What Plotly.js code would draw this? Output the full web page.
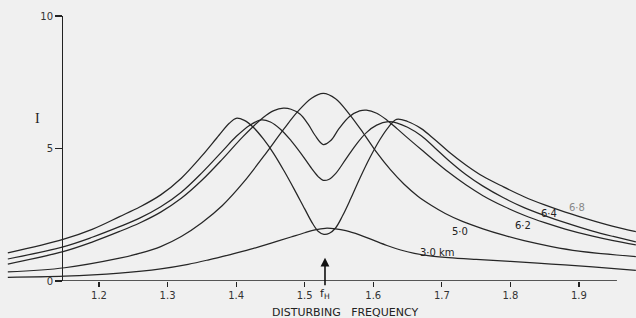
<!DOCTYPE html>
<html>
<head>
<meta charset="utf-8">
<script src="https://cdn.plot.ly/plotly-3.0.1.min.js"></script>
<style>html,body{margin:0;padding:0;background:#f0f0f0;}#chart{width:636px;height:318px;}</style>
</head>
<body>
<div id="chart"></div>
<script>
// Disturbing frequency vs I for heights 3.0, 5.0, 6.2, 6.4, 6.8 km
var f30 = [1.067, 1.15, 1.23, 1.29, 1.33, 1.36, 1.39, 1.42, 1.45, 1.48, 1.50, 1.515, 1.53, 1.545, 1.56, 1.58, 1.60, 1.62, 1.64, 1.66, 1.68, 1.71, 1.75, 1.80, 1.86, 1.92, 1.983];
var i30 = [0.14, 0.18, 0.30, 0.46, 0.63, 0.80, 0.99, 1.19, 1.42, 1.66, 1.82, 1.93, 1.99, 1.97, 1.90, 1.74, 1.54, 1.34, 1.17, 1.045, 0.96, 0.885, 0.815, 0.74, 0.64, 0.53, 0.40];

var f50 = [1.067, 1.15, 1.23, 1.26, 1.29, 1.32, 1.35, 1.38, 1.41, 1.44, 1.47, 1.49, 1.51, 1.527, 1.545, 1.565, 1.585, 1.605, 1.625, 1.645, 1.665, 1.685, 1.705, 1.73, 1.76, 1.79, 1.82, 1.86, 1.90, 1.983];
var i50 = [0.34, 0.50, 0.86, 1.05, 1.30, 1.68, 2.20, 2.85, 3.70, 4.70, 5.75, 6.40, 6.90, 7.08, 6.88, 6.30, 5.60, 4.85, 4.20, 3.65, 3.20, 2.85, 2.55, 2.25, 1.97, 1.73, 1.52, 1.30, 1.13, 0.92];

var f62 = [1.067, 1.1475, 1.19, 1.23, 1.26, 1.29, 1.32, 1.35, 1.38, 1.41, 1.44, 1.455, 1.469, 1.48, 1.493, 1.505, 1.515, 1.527, 1.538, 1.55, 1.565, 1.58, 1.59, 1.605, 1.62, 1.635, 1.65, 1.67, 1.69, 1.71, 1.735, 1.76, 1.79, 1.82, 1.85, 1.88, 1.92, 1.95, 1.983];
var i62 = [0.64, 1.11, 1.47, 1.87, 2.20, 2.60, 3.12, 3.80, 4.60, 5.45, 6.18, 6.43, 6.52, 6.48, 6.30, 5.92, 5.50, 5.15, 5.30, 5.75, 6.20, 6.42, 6.45, 6.33, 6.07, 5.74, 5.40, 4.96, 4.52, 4.10, 3.63, 3.22, 2.82, 2.48, 2.20, 1.96, 1.69, 1.52, 1.36];

var f64 = [1.067, 1.1475, 1.19, 1.23, 1.26, 1.29, 1.32, 1.35, 1.38, 1.40, 1.42, 1.437, 1.45, 1.465, 1.48, 1.495, 1.51, 1.52, 1.527, 1.535, 1.545, 1.56, 1.575, 1.59, 1.605, 1.622, 1.635, 1.65, 1.67, 1.69, 1.71, 1.735, 1.76, 1.79, 1.82, 1.85, 1.88, 1.92, 1.95, 1.983];
var i64 = [0.83, 1.29, 1.65, 2.05, 2.38, 2.80, 3.35, 4.08, 4.90, 5.45, 5.88, 6.08, 6.00, 5.72, 5.30, 4.80, 4.25, 3.93, 3.80, 3.83, 4.05, 4.60, 5.15, 5.60, 5.88, 6.01, 5.96, 5.80, 5.48, 5.02, 4.55, 4.02, 3.58, 3.14, 2.77, 2.47, 2.20, 1.88, 1.68, 1.48];

var f68 = [1.067, 1.1475, 1.19, 1.23, 1.26, 1.29, 1.32, 1.35, 1.375, 1.39, 1.40, 1.412, 1.425, 1.44, 1.455, 1.47, 1.485, 1.50, 1.512, 1.52, 1.528, 1.536, 1.545, 1.555, 1.567, 1.58, 1.595, 1.61, 1.622, 1.634, 1.65, 1.67, 1.69, 1.71, 1.735, 1.76, 1.79, 1.82, 1.85, 1.88, 1.92, 1.95, 1.983];
var i68 = [1.06, 1.57, 1.95, 2.43, 2.80, 3.25, 3.88, 4.72, 5.50, 5.95, 6.14, 6.06, 5.80, 5.35, 4.80, 4.15, 3.45, 2.72, 2.15, 1.87, 1.76, 1.80, 2.00, 2.45, 3.10, 3.85, 4.65, 5.35, 5.80, 6.10, 6.02, 5.75, 5.33, 4.88, 4.38, 3.95, 3.55, 3.18, 2.87, 2.60, 2.28, 2.06, 1.86];

var xTickVals = [1.2, 1.3, 1.4, 1.5, 1.6, 1.7, 1.8, 1.9];
var xTickText = ['1.2', '1.3', '1.4', '1.5', '1.6', '1.7', '1.8', '1.9'];
var yTickVals = [0, 5, 10];
var yTickText = ['0', '5', '10'];
var fH = 1.5296;

var curveLabels = ['3·0 km', '5·0', '6·2', '6·4', '6·8'];
var labelX = [1.693, 1.7265, 1.818, 1.856, 1.897];
var labelY = [1.06, 1.85, 2.08, 2.53, 2.79];
var labelColors = ['#222', '#222', '#222', '#222', '#888'];

var lineStyle = {color: '#262626', width: 1.25, shape: 'spline', smoothing: 1};
function tr(x, y) { return {x: x, y: y, mode: 'lines', line: lineStyle, hoverinfo: 'skip', showlegend: false}; }
var data = [tr(f30, i30), tr(f50, i50), tr(f62, i62), tr(f64, i64), tr(f68, i68)];

var FONT = 'DejaVu Sans, sans-serif';
var annotations = [];
for (var k = 0; k < curveLabels.length; k++) {
  annotations.push({x: labelX[k], y: labelY[k], xref: 'x', yref: 'y', text: curveLabels[k], showarrow: false,
    font: {family: FONT, size: 10, color: labelColors[k]}});
}
// f_H label with the upward arrow
annotations.push({x: fH, y: 0.88, ax: fH, ay: -0.48, xref: 'x', yref: 'y', axref: 'x', ayref: 'y',
  text: 'f<sub>H</sub>', showarrow: true, arrowhead: 2, arrowsize: 1.1, arrowwidth: 1.6, arrowcolor: '#111',
  standoff: 0, startstandoff: 0, font: {family: FONT, size: 11, color: '#222'}});
annotations.push({x: 345 / 636, y: -0.117, xref: 'paper', yref: 'paper', text: 'DISTURBING&nbsp;&nbsp; FREQUENCY', showarrow: false,
  font: {family: FONT, size: 11, color: '#222'}, yanchor: 'middle'});
annotations.push({x: 33 / 636, y: 0.615, xref: 'paper', yref: 'paper', text: 'I', showarrow: false,
  font: {family: 'Liberation Serif, serif', size: 14, color: '#222'}});

var layout = {
  width: 636, height: 318,
  margin: {l: 0, r: 0, t: 16, b: 37, pad: 0},
  paper_bgcolor: '#f0f0f0', plot_bgcolor: '#f0f0f0',
  showlegend: false,
  xaxis: {range: [1.0556, 1.9832], tickvals: xTickVals, ticktext: xTickText, ticks: 'outside', ticklen: 5,
    tickwidth: 1.2, tickcolor: '#222', showgrid: false, zeroline: false, showline: false,
    tickfont: {family: FONT, size: 10, color: '#333'}, fixedrange: true},
  yaxis: {range: [0, 10], anchor: 'free', position: 62 / 636, tickvals: yTickVals, ticktext: yTickText,
    ticks: 'outside', ticklen: 7, tickwidth: 1.2, tickcolor: '#222', showline: true, linecolor: '#222', linewidth: 1.4,
    showgrid: false, zeroline: false, tickfont: {family: FONT, size: 10, color: '#333'}, fixedrange: true},
  shapes: [{type: 'line', xref: 'x', yref: 'y', x0: 1.1358, x1: 1.9554, y0: 0, y1: 0, line: {color: '#222', width: 1.4}}],
  annotations: annotations
};
Plotly.newPlot('chart', data, layout, {staticPlot: true, displayModeBar: false});
</script>
</body>
</html>
